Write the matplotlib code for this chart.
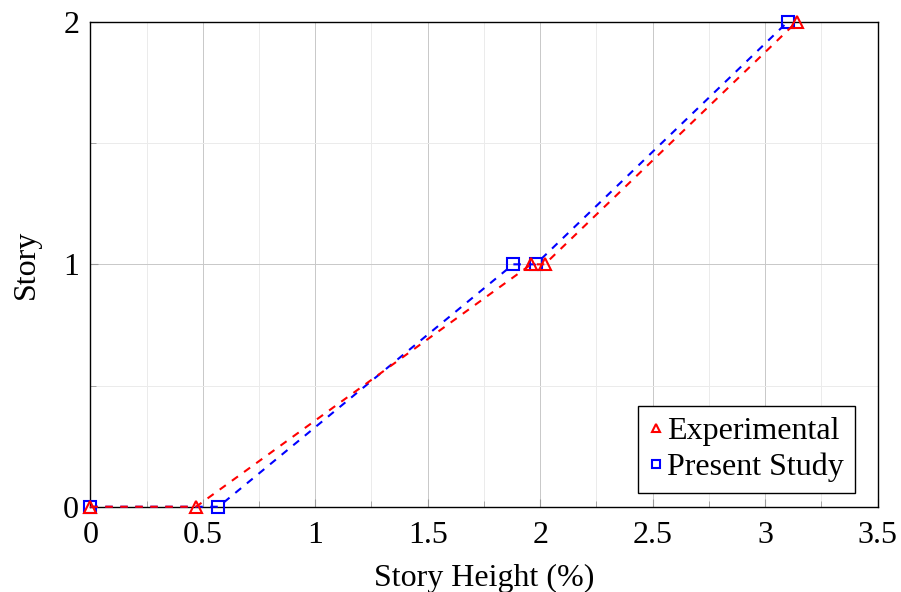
import matplotlib
matplotlib.use("Agg")
from matplotlib import pyplot as plt
from matplotlib.ticker import MultipleLocator

exp_x = [0, 0.47, 1.96, 2.02, 3.14]
exp_y = [0, 0, 1, 1, 2]
pres_x = [0, 0.57, 1.88, 1.98, 3.10]
pres_y = [0, 0, 1, 1, 2]

plt.rcParams["font.family"] = ["Liberation Serif", "DejaVu Serif"]
plt.rcParams["font.size"] = 23

fig = plt.figure(figsize=(9.01, 5.92), dpi=100)
ax = fig.add_axes([0.1002, 0.144, 0.8738, 0.819])

dash = (0, (3.6, 3.6))
ax.plot(pres_x, pres_y, color="blue", ls=dash, lw=1.5, marker="s",
        ms=8, mfc="none", mew=1.5, label="Present Study", zorder=3, clip_on=False)
ax.plot(exp_x, exp_y, color="red", ls=dash, lw=1.5, marker="^",
        ms=8, mfc="none", mew=1.5, label="Experimental", zorder=4, clip_on=False)

ax.set_xlim(0, 3.5)
ax.set_ylim(0, 2)
ax.xaxis.set_major_locator(MultipleLocator(0.5))
ax.xaxis.set_minor_locator(MultipleLocator(0.25))
ax.yaxis.set_major_locator(MultipleLocator(1))
ax.yaxis.set_minor_locator(MultipleLocator(0.5))
ax.set_xticks([0, 0.5, 1, 1.5, 2, 2.5, 3, 3.5], ["0", "0.5", "1", "1.5", "2", "2.5", "3", "3.5"])
ax.set_yticks([0, 1, 2], ["0", "1", "2"])
ax.grid(True, which="major", color="#c8c8c8", lw=0.7)
ax.grid(True, which="minor", color="#ebebeb", lw=0.7)
ax.tick_params(which="both", direction="in", color="#999999")
ax.tick_params(axis="x", which="major", pad=10)
ax.tick_params(axis="y", which="major", pad=8)
ax.tick_params(which="major", length=6)
ax.tick_params(which="minor", length=4)
for s in ax.spines.values():
    s.set_linewidth(1.0)

ax.set_xlabel("Story Height (%)", labelpad=10)
ax.set_ylabel("Story", labelpad=16)

handles, labels = ax.get_legend_handles_labels()
leg = ax.legend(handles[::-1], labels[::-1], loc="lower right", handlelength=0.4,
                handletextpad=0.15, borderpad=0.35, labelspacing=0.2,
                fancybox=False, edgecolor="black", framealpha=1,
                markerscale=0.7, bbox_to_anchor=(0.971, 0.028), borderaxespad=0)
leg.get_frame().set_linewidth(1.0)
for h in leg.legend_handles:
    h.set_linestyle("none")

fig.savefig("out.png", dpi=100)
